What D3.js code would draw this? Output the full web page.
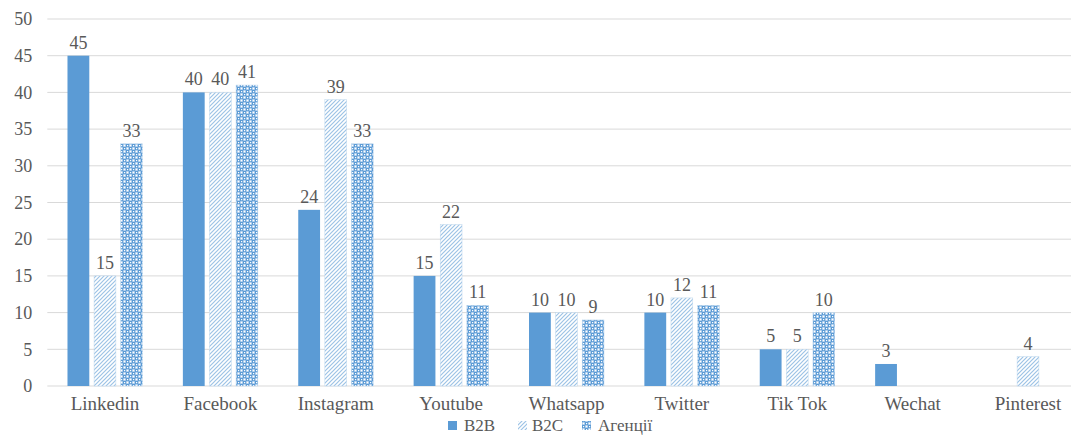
<!DOCTYPE html>
<html><head><meta charset="utf-8">
<script src="https://cdn.jsdelivr.net/npm/d3@7"></script>
<style>body{margin:0;background:#fff}svg{display:block}</style>
</head><body><svg id="c" width="1071" height="436"></svg>
<script>
const categories = ["Linkedin","Facebook","Instagram","Youtube","Whatsapp","Twitter","Tik Tok","Wechat","Pinterest"];
const seriesNames = ["B2B","B2C","Агенції"];
const b2b = [45,40,24,15,10,10,5,3,null];
const b2c = [15,40,39,22,10,12,5,null,4];
const agency = [33,41,33,11,9,11,10,null,null];
const yTicks = [0,5,10,15,20,25,30,35,40,45,50];

(function(){
const svg = d3.select("#c");
const defs = svg.append("defs");
const blue = "#5B9BD5";
const FONT = "Liberation Serif";
const TXT = "#595959";
const p1 = defs.append("pattern").attr("id","hatch").attr("patternUnits","userSpaceOnUse").attr("width",4).attr("height",4);
p1.append("rect").attr("width",4).attr("height",4).attr("fill","#fff");
p1.append("path").attr("d","M-1,1 l2,-2 M0,4 l4,-4 M3,5 l2,-2").attr("stroke","#9DC3E6").attr("stroke-width",1.2);
const p2 = defs.append("pattern").attr("id","dots").attr("patternUnits","userSpaceOnUse").attr("width",6).attr("height",6);
p2.append("rect").attr("width",6).attr("height",6).attr("fill","#8DB8E3");
p2.append("rect").attr("x",0).attr("y",0).attr("width",3).attr("height",3).attr("fill",blue);
p2.append("rect").attr("x",3).attr("y",3).attr("width",3).attr("height",3).attr("fill",blue);
p2.append("rect").attr("x",1).attr("y",1).attr("width",1.2).attr("height",1.2).attr("fill","#fff");
p2.append("rect").attr("x",4).attr("y",4).attr("width",1.2).attr("height",1.2).attr("fill","#fff");
p2.append("rect").attr("x",3.6).attr("y",0.6).attr("width",1.8).attr("height",1.8).attr("fill","#fff");
p2.append("rect").attr("x",0.6).attr("y",3.6).attr("width",1.8).attr("height",1.8).attr("fill","#fff");

const fills = [blue,"url(#hatch)","url(#dots)"];
const data = [b2b,b2c,agency];

const mLeft = 47.3, mRight = 1085.7, mTop = 19, mBottom = 386, GW = 75;
const x = d3.scaleBand().domain(categories).range([mLeft,mRight]);
const xs = d3.scaleBand().domain(seriesNames).range([0,GW]).paddingInner(0.18);
const y = d3.scaleLinear().domain([0,50]).range([mBottom,mTop]);

svg.append("g").selectAll("line").data(yTicks).join("line")
 .attr("x1",mLeft).attr("x2",1071).attr("y1",d=>y(d)).attr("y2",d=>y(d))
 .attr("stroke","#D9D9D9").attr("stroke-width",1);

const yAxis = svg.append("g").attr("transform",`translate(${mLeft},0)`)
 .call(d3.axisLeft(y).tickValues(yTicks).tickSize(0).tickPadding(15));
yAxis.select(".domain").remove();
yAxis.selectAll("text").style("font-family",FONT).style("font-size","18px").attr("fill",TXT);

const xAxis = svg.append("g").attr("transform",`translate(0,${mBottom})`)
 .call(d3.axisBottom(x).tickSize(0).tickPadding(10.5));
xAxis.select(".domain").remove();
xAxis.selectAll("text").style("font-family",FONT).style("font-size","19px").attr("fill",TXT);

seriesNames.forEach((s,si)=>{
  const g = svg.append("g");
  const vals = categories.map((c,i)=>({c,v:data[si][i]})).filter(d=>d.v!=null);
  const off = x.bandwidth()/2 - GW/2;
  g.selectAll("rect").data(vals).join("rect")
   .attr("x",d=>x(d.c)+off+xs(s)).attr("width",xs.bandwidth())
   .attr("y",d=>y(d.v)).attr("height",d=>y(0)-y(d.v))
   .attr("fill",fills[si]).attr("stroke",si===0?"none":"#BDD7EE").attr("stroke-width",si===0?0:0.5);
  g.selectAll("text").data(vals).join("text")
   .attr("x",d=>x(d.c)+off+xs(s)+xs.bandwidth()/2).attr("y",d=>y(d.v)-7)
   .attr("text-anchor","middle").style("font-family",FONT).style("font-size","18px").attr("fill",TXT).text(d=>d.v);
});

const legend = svg.append("g").attr("transform","translate(0,431)");
const items = [{n:"B2B",mx:448,tx:464},{n:"B2C",mx:518,tx:532},{n:"Агенції",mx:582,tx:598}];
items.forEach((it,i)=>{
  legend.append("rect").attr("x",it.mx).attr("y",-10).attr("width",9).attr("height",9).attr("fill",fills[i]);
  legend.append("text").attr("x",it.tx).attr("y",0).style("font-family",FONT).style("font-size","17px").attr("fill",TXT).text(it.n);
});
})();
</script></body></html>
